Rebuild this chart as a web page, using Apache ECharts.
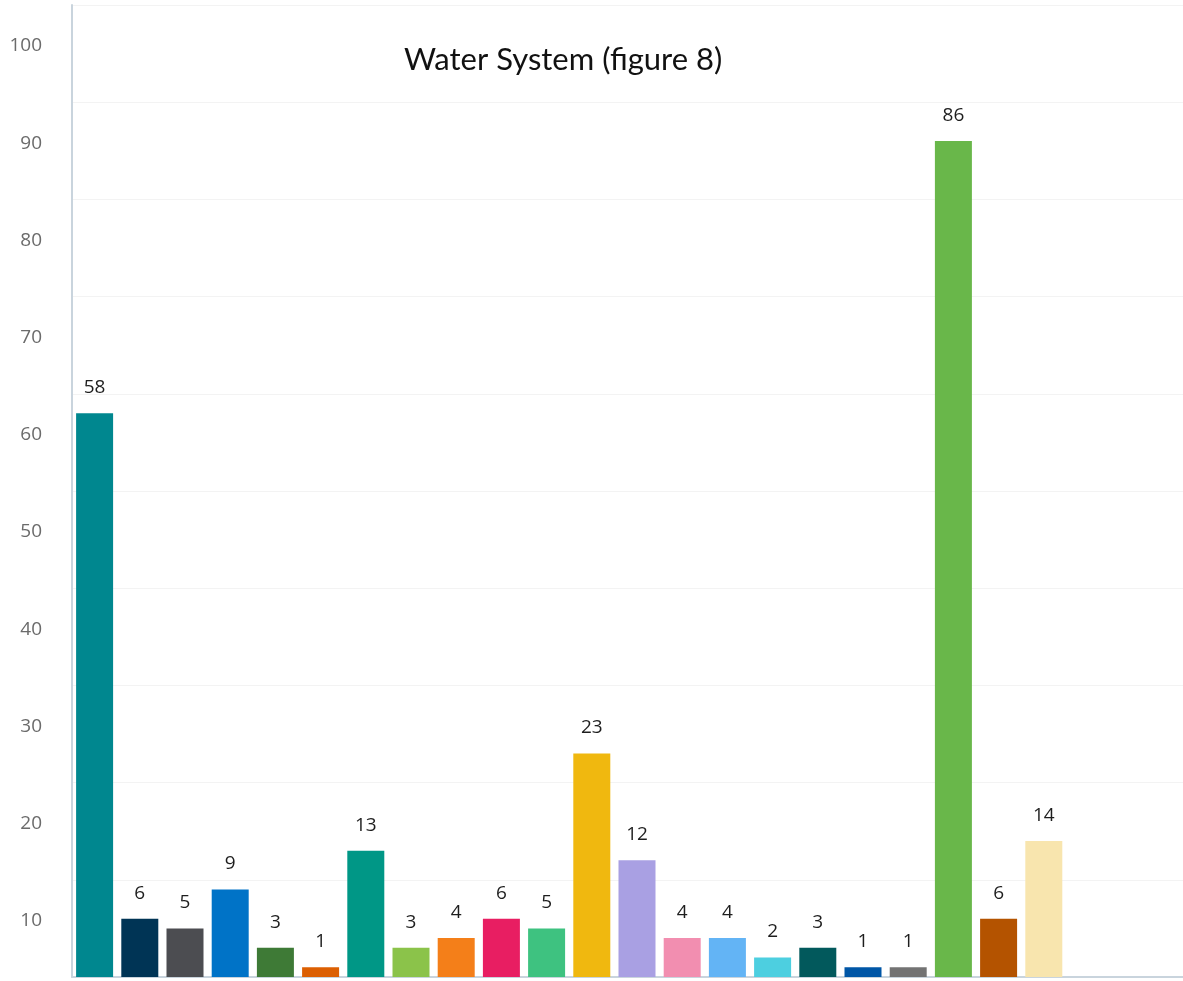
<!DOCTYPE html>
<html>
<head>
<meta charset="utf-8">
<title>Water System (figure 8)</title>
<script src="https://cdn.jsdelivr.net/npm/echarts@6/dist/echarts.min.js"></script>
<style>
  html, body { margin: 0; padding: 0; background: #ffffff; }
  #chart { width: 1183px; height: 981px; }
</style>
</head>
<body>
<div id="chart"></div>
<script>
// Bar categories (unlabelled on the axis) and their counts
const categories = ['1','2','3','4','5','6','7','8','9','10','11','12','13','14','15','16','17','18','19','20','21','22'];
const counts = [58, 6, 5, 9, 3, 1, 13, 3, 4, 6, 5, 23, 12, 4, 4, 2, 3, 1, 1, 86, 6, 14];
const barColors = [
  '#00878f', '#003455', '#4c4d51', '#0073c7', '#3e7a36', '#dc5f02',
  '#009786', '#8bc34a', '#f47f19', '#e81e62', '#3ec280', '#f0b80f',
  '#a9a0e3', '#f28eb0', '#63b4f5', '#4dcfe0', '#02595c', '#0056a6',
  '#737373', '#69b74a', '#b45300', '#f8e5ae'
];
const yTicks = { min: 0, max: 100, interval: 10 };

const chart = echarts.init(document.getElementById('chart'), null, { renderer: 'canvas' });

chart.setOption({
  animation: false,
  backgroundColor: '#ffffff',
  title: {
    text: 'Water System (figure 8)',
    left: 399,
    top: 39,
    textStyle: { fontFamily: 'Lato', fontSize: 31, fontWeight: 'normal', color: '#111111' }
  },
  grid: { left: 72, top: 5, height: 972, width: 1130, outerBoundsMode: 'none', containLabel: false },
  xAxis: {
    type: 'category',
    data: categories,
    max: 24,
    boundaryGap: true,
    axisLine: { show: true, lineStyle: { color: '#c9d4dd', width: 2 } },
    axisTick: { show: false },
    axisLabel: { show: false },
    splitLine: { show: false }
  },
  yAxis: {
    type: 'value',
    min: yTicks.min,
    max: yTicks.max,
    interval: yTicks.interval,
    axisLine: { show: true, lineStyle: { color: '#c9d4dd', width: 2 } },
    axisTick: { show: false },
    axisLabel: {
      margin: 30,
      formatter: v => (v === 0 ? '' : '{t|' + v + '}'),
      rich: {
        t: {
          color: '#6b6b6b',
          fontFamily: 'Open Sans',
          fontSize: 19,
          padding: [82, 0, 0, 0]
        }
      }
    },
    splitLine: { show: true, lineStyle: { color: '#f3f3f3', width: 1 } }
  },
  series: [{
    type: 'bar',
    barWidth: 37,
    data: counts.map((v, i) => ({ value: v, itemStyle: { color: barColors[i] } })),
    label: {
      show: true,
      position: 'top',
      distance: 16,
      color: '#1e1e1e',
      fontFamily: 'Open Sans',
      fontSize: 19
    }
  }]
});
</script>
</body>
</html>
